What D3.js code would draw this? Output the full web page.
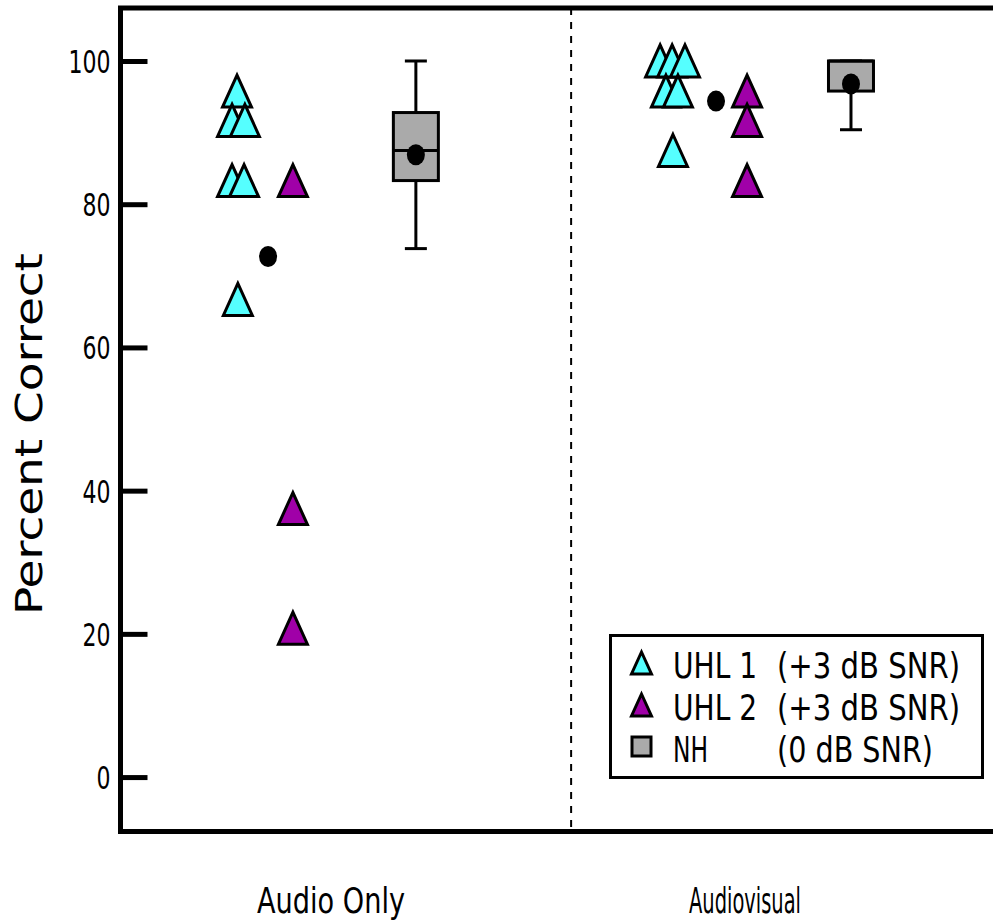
<!DOCTYPE html>
<html>
<head>
<meta charset="utf-8">
<script src="https://cdn.jsdelivr.net/npm/d3@7"></script>
<style>
  body { margin: 0; background: #fff; }
  svg { display: block; }
  text { font-family: "Liberation Sans Narrow", "DejaVu Sans Condensed", "Liberation Sans", sans-serif; fill: #000; }
</style>
</head>
<body>
<svg id="chart" width="993" height="924"></svg>
<script>
// values (percent correct out of 24 items)
const conditions = ["Audio Only", "Audiovisual"];
const conditionX = [1, 2];
const yTicks = [0, 20, 40, 60, 80, 100];

const uhl1Values = [[95.8, 91.7, 91.7, 83.3, 83.3, 66.7], [100, 100, 100, 95.8, 95.8, 87.5]];
const uhl1X = [[0.773, 0.761, 0.792, 0.761, 0.790, 0.775], [1.795, 1.824, 1.855, 1.809, 1.838, 1.826]];
const uhl2Values = [[83.3, 37.5, 20.8], [95.8, 91.7, 83.3]];
const uhl2X = [0.908, 2.005];
const uhlMeans = [72.7, 94.4];
const uhlMeanX = [0.848, 1.930];

const nhBoxes = [
  { lo: 73.8, q1: 83.3, med: 87.5, q3: 92.8, hi: 100, mean: 86.9 },
  { lo: 90.4, q1: 95.8, med: 100, q3: 100, hi: 100, mean: 96.8 }
];
const nhX = [1.205, 2.256];
const dividerX = 1.58;

const legendLabels = [["UHL 1", "(+3 dB SNR)"], ["UHL 2", "(+3 dB SNR)"], ["NH", "(0 dB SNR)"]];

const cyan = "#55ffff", purple = "#a000a8", grey = "#aaaaaa";

const svg = d3.select("#chart");
const x = d3.scaleLinear().domain([1, 2]).range([331, 745]);
const y = d3.scaleLinear().domain([-7.6, 107.4]).range([831.5, 8]);
const left = 120.5, right = 993;

function tri(w, h) {
  return d3.line()([[0, -h / 2], [w / 2, h / 2], [-w / 2, h / 2]]) + "Z";
}

// divider between conditions
svg.append("line")
  .attr("x1", x(dividerX)).attr("x2", x(dividerX))
  .attr("y1", y.range()[1]).attr("y2", y.range()[0])
  .attr("stroke", "#000").attr("stroke-width", 2)
  .attr("stroke-dasharray", "7,7");

// frame
svg.append("path")
  .attr("d", d3.line()([[right, y.range()[1]], [left, y.range()[1]], [left, y.range()[0]], [right, y.range()[0]]]))
  .attr("fill", "none").attr("stroke", "#000").attr("stroke-width", 5);

// y axis
const yAxis = svg.append("g")
  .attr("transform", `translate(${left},0)`)
  .call(d3.axisLeft(y).tickValues(yTicks).tickSize(-27).tickPadding(10));
yAxis.select(".domain").remove();
yAxis.selectAll(".tick line").attr("stroke", "#000").attr("stroke-width", 5);
yAxis.selectAll(".tick text")
  .attr("font-size", 32).attr("dy", "0.36em")
  .attr("textLength", d => String(d).length * 14)
  .attr("lengthAdjust", "spacingAndGlyphs");

svg.append("text")
  .attr("transform", `translate(42,434) rotate(-90)`)
  .attr("text-anchor", "middle")
  .attr("font-size", 37)
  .attr("textLength", 362).attr("lengthAdjust", "spacingAndGlyphs")
  .text("Percent Correct");

// condition labels
const labelW = [148, 112];
svg.selectAll(".cond")
  .data(conditions)
  .join("text")
  .attr("class", "cond")
  .attr("x", (d, i) => x(conditionX[i]) - labelW[i] / 2)
  .attr("y", 913)
  .attr("font-size", 36)
  .attr("textLength", (d, i) => labelW[i]).attr("lengthAdjust", "spacingAndGlyphs")
  .text(d => d);

conditions.forEach((c, ci) => {
  // UHL 1 triangles
  svg.append("g").selectAll("path")
    .data(uhl1Values[ci].map((v, j) => ({ v, xv: uhl1X[ci][j] })))
    .join("path")
    .attr("d", tri(29, 32))
    .attr("transform", d => `translate(${x(d.xv)},${y(d.v)})`)
    .attr("fill", cyan).attr("stroke", "#000").attr("stroke-width", 3);

  // UHL 2 triangles
  svg.append("g").selectAll("path")
    .data(uhl2Values[ci])
    .join("path")
    .attr("d", tri(29, 32))
    .attr("transform", d => `translate(${x(uhl2X[ci])},${y(d)})`)
    .attr("fill", purple).attr("stroke", "#000").attr("stroke-width", 3);

  svg.append("ellipse")
    .attr("cx", x(uhlMeanX[ci])).attr("cy", y(uhlMeans[ci]))
    .attr("rx", 9).attr("ry", 10.5).attr("fill", "#000");

  // NH box plot
  const b = nhBoxes[ci], bx = x(nhX[ci]), g = svg.append("g");
  g.append("line").attr("x1", bx).attr("x2", bx).attr("y1", y(b.hi)).attr("y2", y(b.lo))
    .attr("stroke", "#000").attr("stroke-width", 3);
  [b.hi, b.lo].forEach(v => {
    g.append("line").attr("x1", bx - 11).attr("x2", bx + 11).attr("y1", y(v)).attr("y2", y(v))
      .attr("stroke", "#000").attr("stroke-width", 3);
  });
  g.append("rect").attr("x", bx - 22.5).attr("width", 45)
    .attr("y", y(b.q3)).attr("height", y(b.q1) - y(b.q3))
    .attr("fill", grey).attr("stroke", "#000").attr("stroke-width", 3);
  g.append("line").attr("x1", bx - 22.5).attr("x2", bx + 22.5).attr("y1", y(b.med)).attr("y2", y(b.med))
    .attr("stroke", "#000").attr("stroke-width", 3);
  g.append("ellipse").attr("cx", bx).attr("cy", y(b.mean))
    .attr("rx", 9).attr("ry", 10.5).attr("fill", "#000");
});

// legend
const lg = svg.append("g");
lg.append("rect").attr("x", 610.5).attr("y", 635.5).attr("width", 372).attr("height", 142)
  .attr("fill", "#fff").attr("stroke", "#000").attr("stroke-width", 3);
const rows = lg.selectAll("g.row").data(legendLabels).join("g")
  .attr("class", "row")
  .attr("transform", (d, i) => `translate(0,${678 + i * 42})`);
rows.each(function (d, i) {
  const r = d3.select(this);
  if (i < 2) {
    r.append("path").attr("d", tri(20, 22)).attr("transform", "translate(641.5,-15)")
      .attr("fill", i === 0 ? cyan : purple).attr("stroke", "#000").attr("stroke-width", 3);
  } else {
    r.append("rect").attr("x", 632).attr("y", -25).attr("width", 19).attr("height", 19)
      .attr("fill", grey).attr("stroke", "#000").attr("stroke-width", 3);
  }
  r.append("text").attr("x", 673).attr("font-size", 36)
    .attr("textLength", i < 2 ? 84 : 35).attr("lengthAdjust", "spacingAndGlyphs")
    .text(d[0]);
  r.append("text").attr("x", 777).attr("font-size", 36)
    .attr("textLength", i < 2 ? 183 : 156).attr("lengthAdjust", "spacingAndGlyphs")
    .text(d[1]);
});
</script>
</body>
</html>
